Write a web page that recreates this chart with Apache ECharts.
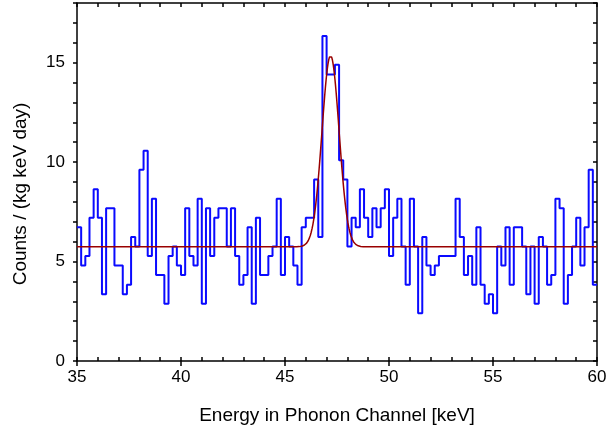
<!DOCTYPE html>
<html>
<head>
<meta charset="utf-8">
<script src="https://cdn.jsdelivr.net/npm/echarts@6/dist/echarts.min.js"></script>
<style>
  html, body { margin: 0; padding: 0; background: #fff; }
  #chart { width: 608px; height: 427px; }
</style>
</head>
<body>
<div id="chart"></div>
<script>
// Histogram binning (keV)
const binStart = 35;
const binWidth = 0.2;

// Rate per bin, counts / (kg keV day)
const rate = [
  6.72, 4.80, 5.28, 7.20, 8.64, 7.20, 3.36, 7.68, 7.68, 4.80,
  4.80, 3.36, 3.84, 6.24, 5.76, 9.61, 10.57, 5.28, 8.16, 4.32,
  4.32, 2.88, 5.28, 5.76, 4.80, 4.32, 7.68, 5.28, 4.80, 8.16,
  2.88, 7.68, 5.28, 7.20, 7.68, 7.68, 5.76, 7.68, 5.28, 3.84,
  4.32, 6.72, 2.88, 7.20, 4.32, 4.32, 5.28, 5.76, 8.16, 4.32,
  6.24, 5.76, 4.80, 3.84, 6.72, 7.20, 7.20, 9.13, 6.24, 16.34,
  14.41, 14.41, 14.89, 10.09, 9.13, 5.76, 7.20, 6.72, 8.64, 7.20,
  6.24, 7.68, 6.72, 7.68, 8.64, 5.28, 7.20, 8.16, 5.76, 3.84,
  8.16, 5.76, 2.40, 6.24, 4.80, 4.32, 4.80, 5.28, 5.28, 5.28,
  5.28, 8.16, 6.24, 4.32, 5.28, 3.84, 6.72, 3.84, 2.88, 3.36,
  2.40, 5.76, 4.80, 6.72, 3.84, 6.72, 6.72, 5.76, 3.36, 5.76,
  2.88, 6.24, 5.76, 3.84, 4.32, 8.16, 7.68, 2.88, 4.32, 5.76,
  7.20, 4.80, 6.72, 9.61, 3.84
];

// Gaussian peak on a flat background
const fitBaseline = 5.74;
const fitAmplitude = 9.62;
const fitMean = 47.19;
const fitSigma = 0.41;

// Axis ranges and ticks
const xRange = [35, 60];
const xMajor = 5;
const yRange = [0, 18];
const yMajor = 5;
const minorStep = 1;

const FONT = '"Liberation Sans", Arial, Helvetica, sans-serif';

// Step outline: each bin starts at its left edge, closed at the right end
const histData = rate.map((v, i) => [binStart + i * binWidth, v]);
histData.push([binStart + rate.length * binWidth, rate[rate.length - 1]]);

// Fit curve sampled finely across the range
const fitData = [];
for (let x = xRange[0]; x <= xRange[1] + 1e-9; x += 0.02) {
  const z = (x - fitMean) / fitSigma;
  fitData.push([x, fitBaseline + fitAmplitude * Math.exp(-0.5 * z * z)]);
}

const axisColor = '#000';
const lineW = 1.5;

const chart = echarts.init(document.getElementById('chart'), null, { renderer: 'canvas' });

chart.setOption({
  animation: false,
  backgroundColor: '#fff',
  grid: { left: 77, right: 11, top: 3, bottom: 66, containLabel: false, outerBoundsMode: 'none' },
  xAxis: [
    {
      type: 'value', min: xRange[0], max: xRange[1], interval: xMajor, position: 'bottom',
      axisLine: { show: true, onZero: false, lineStyle: { color: axisColor, width: lineW } },
      axisTick: { show: true, inside: false, length: 5, lineStyle: { color: axisColor, width: lineW } },
      axisLabel: { fontSize: 17, color: '#000', fontFamily: FONT, margin: 8 },
      splitLine: { show: false },
      name: 'Energy in Phonon Channel [keV]',
      nameLocation: 'middle', nameGap: 45,
      nameTextStyle: { fontSize: 19, color: '#000', fontFamily: FONT }
    },
    {
      type: 'value', min: xRange[0], max: xRange[1], interval: minorStep, position: 'bottom',
      axisLine: { show: false, onZero: false },
      axisTick: { show: true, inside: true, length: 4, lineStyle: { color: axisColor, width: lineW } },
      axisLabel: { show: false }, splitLine: { show: false }
    },
    {
      type: 'value', min: xRange[0], max: xRange[1], interval: minorStep, position: 'top',
      axisLine: { show: true, onZero: false, lineStyle: { color: axisColor, width: lineW } },
      axisTick: { show: true, inside: true, length: 4, lineStyle: { color: axisColor, width: lineW } },
      axisLabel: { show: false }, splitLine: { show: false }
    }
  ],
  yAxis: [
    {
      type: 'value', min: yRange[0], max: yRange[1], interval: minorStep, position: 'left',
      axisLine: { show: true, onZero: false, lineStyle: { color: axisColor, width: lineW } },
      axisTick: { show: true, inside: false, length: 4, lineStyle: { color: axisColor, width: lineW } },
      axisLabel: {
        fontSize: 17, color: '#000', fontFamily: FONT, margin: 12,
        formatter: v => (v % yMajor === 0 ? String(v) : '')
      },
      splitLine: { show: false }
    },
    {
      type: 'value', min: yRange[0], max: yRange[1], interval: minorStep, position: 'right',
      axisLine: { show: true, onZero: false, lineStyle: { color: axisColor, width: lineW } },
      axisTick: { show: true, inside: true, length: 4, lineStyle: { color: axisColor, width: lineW } },
      axisLabel: { show: false }, splitLine: { show: false }
    }
  ],
  graphic: [
    {
      type: 'text', x: 21, y: 194, rotation: Math.PI / 2,
      style: {
        text: 'Counts / (kg keV day)', fill: '#000',
        font: '19px ' + FONT,
        align: 'center', verticalAlign: 'middle',
        textAlign: 'center', textVerticalAlign: 'middle'
      }
    }
  ],
  series: [
    {
      type: 'line', xAxisIndex: 0, yAxisIndex: 0,
      data: histData, step: 'end',
      showSymbol: false, symbol: 'none', clip: true,
      lineStyle: { color: '#0a0aff', width: 2 },
      z: 2
    },
    {
      type: 'line', xAxisIndex: 0, yAxisIndex: 0,
      data: fitData, smooth: false,
      showSymbol: false, symbol: 'none', clip: true,
      lineStyle: { color: '#990000', width: 1.5 },
      z: 3
    }
  ]
});
</script>
</body>
</html>
